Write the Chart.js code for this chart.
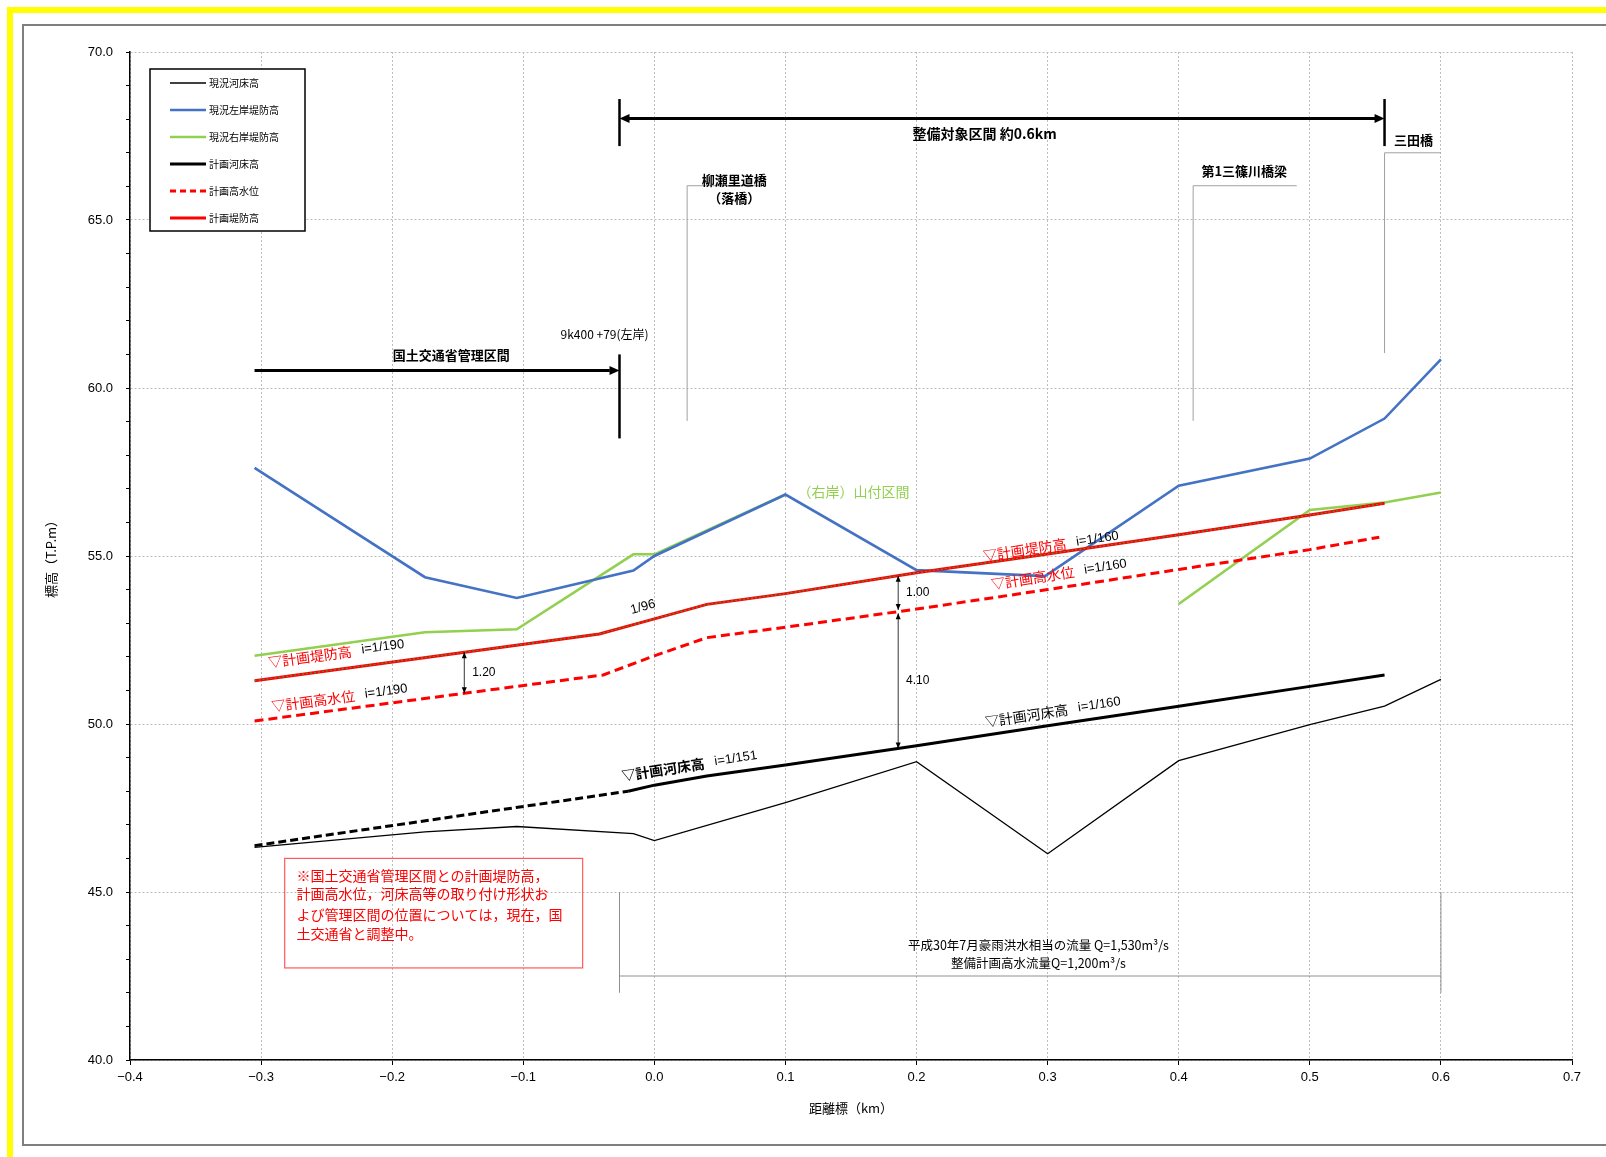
<!DOCTYPE html>
<html lang="ja">
<head>
<meta charset="utf-8">
<title>縦断図</title>
<script src="https://cdn.jsdelivr.net/npm/chart.js@4.4.1/dist/chart.umd.min.js"></script>
<style>
  html, body { margin: 0; padding: 0; background: #fff; overflow: hidden; }
  #yellow { position: absolute; left: 7px; top: 7px; width: 1700px; height: 1300px; border: 6px solid #ffff00; box-sizing: border-box; }
  #frame { position: absolute; left: 22px; top: 24px; width: 1700px; height: 1122px; border: 2px solid #7f7f7f; box-sizing: border-box; }
  #profile { position: absolute; left: 0; top: 0; }
</style>
</head>
<body>
<div id="yellow"></div>
<div id="frame"></div>
<canvas id="profile" width="1606" height="1157"></canvas>
<script>
// 距離標 (km) / 標高 (T.P.m)
const bedKm = [-0.305, -0.175, -0.105, -0.016, 0.0, 0.1, 0.2, 0.3, 0.4, 0.5, 0.557, 0.6];
const bedEl = [46.33, 46.79, 46.95, 46.74, 46.53, 47.66, 48.88, 46.14, 48.91, 49.98, 50.53, 51.33];

const leftKm = [-0.305, -0.175, -0.105, -0.016, 0.0, 0.1, 0.2, 0.298, 0.4, 0.5, 0.557, 0.6];
const leftEl = [57.62, 54.37, 53.75, 54.57, 55.0, 56.83, 54.58, 54.40, 57.09, 57.90, 59.09, 60.85];

// null = 山付区間 (no right bank levee)
const rightKm = [-0.305, -0.175, -0.105, -0.016, 0.0, 0.1, 0.25, 0.4, 0.5, 0.557, 0.6];
const rightEl = [52.03, 52.73, 52.82, 55.05, 55.05, 56.83, null, 53.57, 56.37, 56.59, 56.89];

const planBedKm = [-0.305, -0.02, 0.0, 0.04, 0.1, 0.2, 0.3, 0.4, 0.5, 0.557];
const planBedEl = [46.38, 48.0, 48.18, 48.45, 48.78, 49.35, 49.95, 50.53, 51.12, 51.46];

const hwlKm = [-0.305, -0.039, 0.0, 0.04, 0.1, 0.2, 0.3, 0.4, 0.5, 0.553];
const hwlEl = [50.09, 51.46, 52.03, 52.57, 52.88, 53.42, 54.0, 54.6, 55.19, 55.56];

const leveeKm = [-0.305, -0.042, 0.0, 0.04, 0.1, 0.2, 0.3, 0.4, 0.5, 0.557];
const leveeEl = [51.29, 52.68, 53.13, 53.56, 53.88, 54.50, 55.06, 55.63, 56.22, 56.57];

const xTicks = { min: -0.4, max: 0.7, step: 0.1 };
const yTicks = { min: 40, max: 70, step: 1, labelEvery: 5 };

const RED = '#ff0000', BLUE = '#4472c4', GREEN = '#92d050';
const JP = '"Noto Sans CJK JP", "Noto Sans", sans-serif';
const NUM = '"Liberation Sans", Arial, sans-serif';

const pts = (xs, ys) => xs.map((x, i) => ({ x: x, y: ys[i] }));

function interp(xs, ys, x) {
    for (let i = 1; i < xs.length; i++) {
        if (x <= xs[i]) {
            const t = (x - xs[i - 1]) / (xs[i] - xs[i - 1]);
            return ys[i - 1] + t * (ys[i] - ys[i - 1]);
        }
    }
    return ys[ys.length - 1];
}

const notes = {
    id: 'notes',
    afterDatasetsDraw(chart) {
        const ctx = chart.ctx, area = chart.chartArea;
        const X = v => chart.scales.x.getPixelForValue(v);
        const Y = v => chart.scales.y.getPixelForValue(v);

        const line = (list, color, width, dash) => {
            ctx.save();
            ctx.strokeStyle = color; ctx.lineWidth = width; ctx.setLineDash(dash || []);
            ctx.beginPath();
            list.forEach(([x, y], i) => i ? ctx.lineTo(X(x), Y(y)) : ctx.moveTo(X(x), Y(y)));
            ctx.stroke();
            ctx.restore();
        };
        const head = (px, py, ang, len, half) => {
            ctx.save();
            ctx.translate(px, py); ctx.rotate(ang);
            ctx.fillStyle = '#000';
            ctx.beginPath();
            ctx.moveTo(0, 0); ctx.lineTo(-len, -half); ctx.lineTo(-len, half);
            ctx.closePath(); ctx.fill();
            ctx.restore();
        };
        const text = (t, x, y, font, color, align) => {
            ctx.save();
            ctx.font = font; ctx.fillStyle = color || '#000';
            ctx.textAlign = align || 'center'; ctx.textBaseline = 'middle';
            ctx.fillText(t, X(x), Y(y));
            ctx.restore();
        };
        const slope = (xs, ys, i, j) => Math.atan2(Y(ys[j]) - Y(ys[i]), X(xs[j]) - X(xs[i]));
        const tilted = (parts, x, y, ang) => {
            ctx.save();
            ctx.translate(X(x), Y(y)); ctx.rotate(ang);
            ctx.textAlign = 'left'; ctx.textBaseline = 'middle';
            let cx = 0;
            parts.forEach(p => {
                ctx.font = p.font; ctx.fillStyle = p.color;
                ctx.fillText(p.t, cx, 0);
                cx += ctx.measureText(p.t).width + (p.gap || 0);
            });
            ctx.restore();
        };
        const dim = (x, yTop, yBot, label) => {
            line([[x, yTop], [x, yBot]], '#000', 0.8);
            head(X(x), Y(yTop), -Math.PI / 2, 6, 2.5);
            head(X(x), Y(yBot), Math.PI / 2, 6, 2.5);
            text(label, x + 0.006, (yTop + yBot) / 2, '12px ' + NUM, '#000', 'left');
        };

        // 整備対象区間
        line([[-0.0266, 68.6], [-0.0266, 67.2]], '#000', 2.5);
        line([[0.557, 68.6], [0.557, 67.2]], '#000', 2.5);
        line([[-0.02, 68.02], [0.55, 68.02]], '#000', 3);
        head(X(-0.0266), Y(68.02), Math.PI, 10, 4.5);
        head(X(0.557), Y(68.02), 0, 10, 4.5);
        text('整備対象区間 約0.6km', 0.252, 67.56, 'bold 14px ' + JP);

        // 国土交通省管理区間
        line([[-0.0266, 61.0], [-0.0266, 58.5]], '#000', 2.5);
        line([[-0.305, 60.52], [-0.034, 60.52]], '#000', 3);
        head(X(-0.0266), Y(60.52), 0, 10, 4.5);
        text('国土交通省管理区間', -0.155, 60.98, 'bold 13px ' + JP);
        text('9k400 +79(左岸)', -0.038, 61.59, '12px ' + JP);

        // bridges
        line([[0.025, 59.02], [0.025, 66.02], [0.08, 66.02]], '#a0a0a0', 1);
        text('柳瀬里道橋', 0.061, 66.19, 'bold 13px ' + JP);
        text('（落橋）', 0.061, 65.64, 'bold 13px ' + JP);
        line([[0.411, 59.02], [0.411, 66.02], [0.49, 66.02]], '#a0a0a0', 1);
        text('第1三篠川橋梁', 0.45, 66.46, 'bold 13px ' + JP);
        line([[0.557, 61.04], [0.557, 67.0], [0.6, 67.0]], '#a0a0a0', 1);
        text('三田橋', 0.579, 67.38, 'bold 13px ' + JP);

        text('（右岸）山付区間', 0.152, 56.92, '14px ' + JP, GREEN);

        // slope labels
        const redT = t => ({ t: t, font: '14px ' + JP, color: RED, gap: 10 });
        const blkT = t => ({ t: t, font: '13px ' + NUM, color: '#000' });
        tilted([redT('▽計画堤防高'), blkT('i=1/190')], -0.2945, 51.83, slope(leveeKm, leveeEl, 0, 1));
        tilted([redT('▽計画高水位'), blkT('i=1/190')], -0.292, 50.52, slope(hwlKm, hwlEl, 0, 1));
        tilted([blkT('1/96')], -0.018, 53.38, slope(leveeKm, leveeEl, 1, 3));
        tilted([redT('▽計画堤防高'), blkT('i=1/160')], 0.2508, 55.0, slope(leveeKm, leveeEl, 5, 9));
        tilted([redT('▽計画高水位'), blkT('i=1/160')], 0.257, 54.15, slope(hwlKm, hwlEl, 5, 9));
        tilted([{ t: '▽計画河床高', font: '14px ' + JP, color: '#000', gap: 10 }, blkT('i=1/160')],
            0.2523, 50.06, slope(planBedKm, planBedEl, 5, 9));
        tilted([{ t: '▽計画河床高', font: 'bold 14px ' + JP, color: '#000', gap: 10 }, blkT('i=1/151')],
            -0.025, 48.45, slope(planBedKm, planBedEl, 2, 4));

        // dimension arrows
        dim(-0.145, interp(leveeKm, leveeEl, -0.145), interp(hwlKm, hwlEl, -0.145), '1.20');
        dim(0.186, interp(leveeKm, leveeEl, 0.186), interp(hwlKm, hwlEl, 0.186) + 0.05, '1.00');
        dim(0.186, interp(hwlKm, hwlEl, 0.186) - 0.05, interp(planBedKm, planBedEl, 0.186), '4.10');

        // note box
        ctx.save();
        ctx.strokeStyle = '#ff5a5a'; ctx.lineWidth = 1.2;
        ctx.strokeRect(X(-0.282), Y(46.0), X(-0.0547) - X(-0.282), Y(42.74) - Y(46.0));
        ctx.restore();
        const noteLines = [
            '※国土交通省管理区間との計画堤防高，',
            '計画高水位，河床高等の取り付け形状お',
            'よび管理区間の位置については，現在，国',
            '土交通省と調整中。'
        ];
        const noteY = [45.49, 44.94, 44.33, 43.75];
        noteLines.forEach((t, i) => text(t, -0.273, noteY[i], '14px ' + JP, RED, 'left'));

        // discharge
        line([[-0.0266, 45.0], [-0.0266, 42.0]], '#909090', 1);
        line([[0.6, 45.0], [0.6, 42.0]], '#909090', 1);
        line([[-0.0266, 42.5], [0.6, 42.5]], '#909090', 1);
        text('平成30年7月豪雨洪水相当の流量 Q=1,530m³/s', 0.293, 43.41, '12.5px ' + JP);
        text('整備計画高水流量Q=1,200m³/s', 0.293, 42.87, '12.5px ' + JP);

        // axis titles
        ctx.save();
        ctx.font = '13px ' + JP; ctx.fillStyle = '#000';
        ctx.textAlign = 'center'; ctx.textBaseline = 'middle';
        ctx.fillText('距離標（km）', (area.left + area.right) / 2, area.bottom + 48);
        ctx.translate(51, (area.top + area.bottom) / 2);
        ctx.rotate(-Math.PI / 2);
        ctx.fillText('標高（T.P.m）', 0, 0);
        ctx.restore();

        // legend
        const lx = area.left + 20, ly = area.top + 17;
        ctx.save();
        ctx.fillStyle = '#fff';
        ctx.fillRect(lx, ly, 155, 162);
        ctx.strokeStyle = '#000'; ctx.lineWidth = 1.5;
        ctx.strokeRect(lx, ly, 155, 162);
        chart.data.datasets.filter(d => d.label).forEach((d, i) => {
            const yy = ly + 14 + i * 27;
            ctx.strokeStyle = d.borderColor;
            ctx.lineWidth = Math.min(d.borderWidth, 3);
            ctx.setLineDash(d.borderDash ? [6, 4] : []);
            ctx.beginPath(); ctx.moveTo(lx + 20, yy); ctx.lineTo(lx + 56, yy); ctx.stroke();
            ctx.setLineDash([]);
            ctx.font = '10px ' + JP; ctx.fillStyle = '#000';
            ctx.textAlign = 'left'; ctx.textBaseline = 'middle';
            ctx.fillText(d.label, lx + 59, yy);
        });
        ctx.restore();
    }
};

new Chart(document.getElementById('profile'), {
    type: 'scatter',
    data: {
        datasets: [
            { label: '現況河床高', data: pts(bedKm, bedEl), borderColor: '#000', borderWidth: 1.3, order: 6 },
            { label: '現況左岸堤防高', data: pts(leftKm, leftEl), borderColor: BLUE, borderWidth: 2.6, order: 4 },
            { label: '現況右岸堤防高', data: pts(rightKm, rightEl), borderColor: GREEN, borderWidth: 2.6, order: 5 },
            {
                label: '計画河床高', data: pts(planBedKm, planBedEl), borderColor: '#000', borderWidth: 3, order: 3,
                segment: { borderDash: c => c.p1.parsed.x <= -0.0199 ? [8, 4] : undefined }
            },
            { label: '計画高水位', data: pts(hwlKm, hwlEl), borderColor: RED, borderWidth: 3, borderDash: [9, 5], order: 2 },
            { label: '計画堤防高', data: pts(leveeKm, leveeEl), borderColor: RED, borderWidth: 3, order: 1 },
            { label: '', data: pts(leveeKm, leveeEl), borderColor: '#4f8f3f', borderWidth: 1.2, borderDash: [2, 2], order: 0 }
        ]
    },
    options: {
        responsive: false,
        animation: false,
        devicePixelRatio: 1,
        layout: { padding: { left: 0, top: 52, right: 34, bottom: 0 } },
        datasets: { scatter: { showLine: true, pointRadius: 0, tension: 0, spanGaps: false } },
        plugins: { legend: { display: false }, tooltip: { enabled: false } },
        scales: {
            x: {
                type: 'linear',
                min: xTicks.min, max: xTicks.max,
                afterFit: s => { s.height = 97; },
                ticks: {
                    stepSize: xTicks.step,
                    color: '#000',
                    font: { family: NUM, size: 13 },
                    padding: 5,
                    maxRotation: 0,
                    callback: v => {
                        const r = Math.round(v * 10) / 10;
                        return (r < 0 ? '−' : '') + Math.abs(r).toFixed(1);
                    }
                },
                grid: { color: '#bdbdbd', tickColor: '#000', tickLength: 5 },
                border: { color: '#000', width: 1.5, dash: [2, 2] }
            },
            y: {
                min: yTicks.min, max: yTicks.max,
                afterFit: s => { s.width = 130; },
                ticks: {
                    stepSize: yTicks.step,
                    color: '#000',
                    font: { family: NUM, size: 13 },
                    padding: 13,
                    autoSkip: false,
                    callback: v => (v % yTicks.labelEvery === 0 ? v.toFixed(1) : '')
                },
                grid: {
                    color: c => (c.tick && c.tick.value % yTicks.labelEvery === 0 ? '#bdbdbd' : 'rgba(0,0,0,0)'),
                    tickColor: '#000',
                    tickLength: 4
                },
                border: { color: '#000', width: 1.5, dash: [2, 2] }
            }
        }
    },
    plugins: [notes]
});
</script>
</body>
</html>
